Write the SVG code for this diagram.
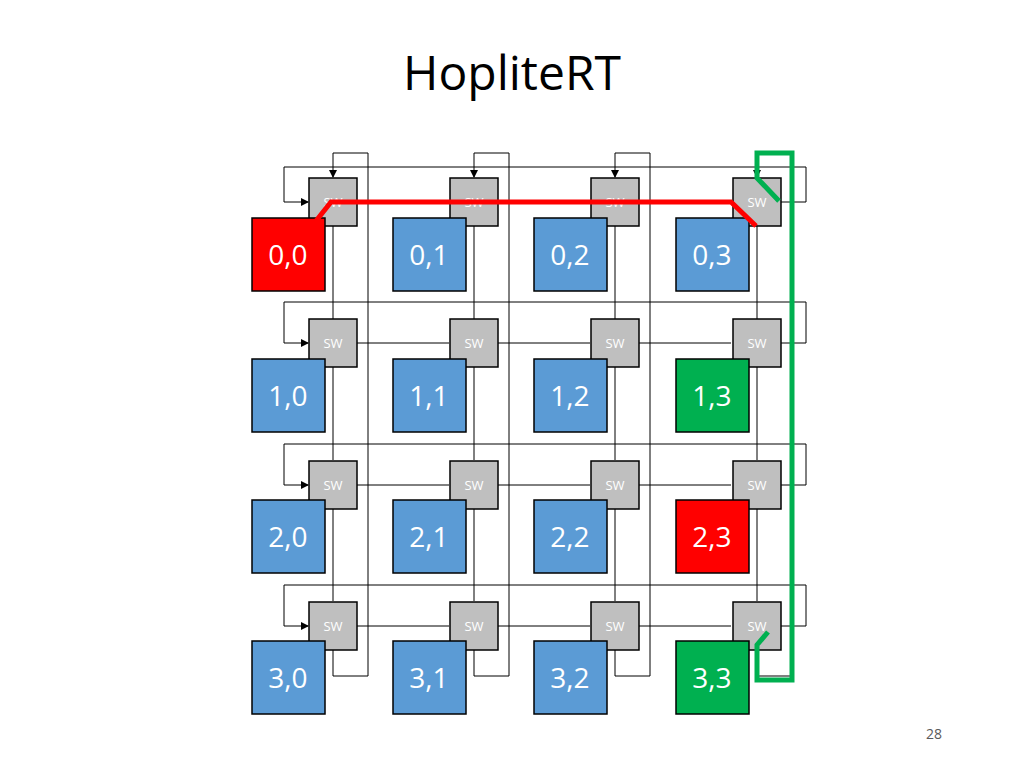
<svg xmlns="http://www.w3.org/2000/svg" width="1024" height="768" viewBox="0 0 1024 768">
<defs>
<marker id="a" markerWidth="8" markerHeight="8" refX="7" refY="4" orient="auto" markerUnits="userSpaceOnUse"><path d="M0,0L8,4L0,8z" fill="#000"/></marker>
<style>
.w{fill:none;stroke:#000;stroke-width:1}
.sw{fill:#bfbfbf;stroke:#000;stroke-width:1.5}
.pe{stroke:#000;stroke-width:1.5}
.b{fill:#5b9bd5}.r{fill:#ff0000}.g{fill:#00b050}
.st{font-family:"Open Sans","Liberation Sans",sans-serif;font-size:13px;fill:#fff;text-anchor:middle}
.pt{font-family:"Open Sans","Liberation Sans",sans-serif;font-size:28px;fill:#fff;text-anchor:middle}
</style>
</defs>
<rect width="1024" height="768" fill="#fff"/>
<text x="512" y="90" font-family="Open Sans,Liberation Sans,sans-serif" font-size="48" text-anchor="middle">HopliteRT</text>
<text x="934" y="739" font-family="Open Sans,Liberation Sans,sans-serif" font-size="14" fill="#595959" text-anchor="middle">28</text>
<g id="connectors">
<path class="w" d="M333,650V676H368V153H333V177" marker-end="url(#a)"/>
<path class="w" d="M474,650V676H509V153H474V177" marker-end="url(#a)"/>
<path class="w" d="M615,650V676H650V153H615V177" marker-end="url(#a)"/>
<path class="w" d="M757,650V676H792V153H757V177" marker-end="url(#a)"/>
<path class="w" d="M781,202H806V167H284V202H308" marker-end="url(#a)"/>
<path class="w" d="M781,343H806V302H284V343H308" marker-end="url(#a)"/>
<path class="w" d="M781,485H806V444H284V485H308" marker-end="url(#a)"/>
<path class="w" d="M781,626H806V585H284V626H308" marker-end="url(#a)"/>
<g id="v">
<path class="w" d="M333,226V319M474,226V319M615,226V319M757,226V319M333,367V460M474,367V460M615,367V460M757,367V460M333,508V601M474,508V601M615,508V601M757,508V601"/>
</g>
<path class="w" d="M357,202H449M498,202H590M639,202H731M357,343H449M498,343H590M639,343H731M357,485H449M498,485H590M639,485H731M357,626H449M498,626H590M639,626H731"/>
</g>
<defs><g id="sw"><rect class="sw" x="-24" y="-24" width="48" height="48"/><text class="st" x="0" y="5">SW</text></g></defs>
<g id="row0"><use href="#sw" x="333" y="202"/><use href="#sw" x="474" y="202"/><use href="#sw" x="615" y="202"/><use href="#sw" x="757" y="202"/></g>
<g id="row1"><use href="#sw" x="333" y="343"/><use href="#sw" x="474" y="343"/><use href="#sw" x="615" y="343"/><use href="#sw" x="757" y="343"/></g>
<g id="row2"><use href="#sw" x="333" y="485"/><use href="#sw" x="474" y="485"/><use href="#sw" x="615" y="485"/><use href="#sw" x="757" y="485"/></g>
<g id="row3"><use href="#sw" x="333" y="626"/><use href="#sw" x="474" y="626"/><use href="#sw" x="615" y="626"/><use href="#sw" x="757" y="626"/></g>
<g id="pe00"><rect class="pe r" x="252" y="218" width="73" height="73"/><text class="pt" x="288" y="265">0,0</text></g>
<g id="pe01"><rect class="pe b" x="393" y="218" width="73" height="73"/><text class="pt" x="429" y="265">0,1</text></g>
<g id="pe02"><rect class="pe b" x="534" y="218" width="73" height="73"/><text class="pt" x="570" y="265">0,2</text></g>
<g id="pe03"><rect class="pe b" x="676" y="218" width="73" height="73"/><text class="pt" x="712" y="265">0,3</text></g>
<g id="pe10"><rect class="pe b" x="252" y="359" width="73" height="73"/><text class="pt" x="288" y="406">1,0</text></g>
<g id="pe11"><rect class="pe b" x="393" y="359" width="73" height="73"/><text class="pt" x="429" y="406">1,1</text></g>
<g id="pe12"><rect class="pe b" x="534" y="359" width="73" height="73"/><text class="pt" x="570" y="406">1,2</text></g>
<g id="pe13"><rect class="pe g" x="676" y="359" width="73" height="73"/><text class="pt" x="712" y="406">1,3</text></g>
<g id="pe20"><rect class="pe b" x="252" y="500" width="73" height="73"/><text class="pt" x="288" y="547">2,0</text></g>
<g id="pe21"><rect class="pe b" x="393" y="500" width="73" height="73"/><text class="pt" x="429" y="547">2,1</text></g>
<g id="pe22"><rect class="pe b" x="534" y="500" width="73" height="73"/><text class="pt" x="570" y="547">2,2</text></g>
<g id="pe23"><rect class="pe r" x="676" y="500" width="73" height="73"/><text class="pt" x="712" y="547">2,3</text></g>
<g id="pe30"><rect class="pe b" x="252" y="641" width="73" height="73"/><text class="pt" x="288" y="688">3,0</text></g>
<g id="pe31"><rect class="pe b" x="393" y="641" width="73" height="73"/><text class="pt" x="429" y="688">3,1</text></g>
<g id="pe32"><rect class="pe b" x="534" y="641" width="73" height="73"/><text class="pt" x="570" y="688">3,2</text></g>
<g id="pe33"><rect class="pe g" x="676" y="641" width="73" height="73"/><text class="pt" x="712" y="688">3,3</text></g>
<g id="paths">
<path d="M312,226L331,202H731L756,226" fill="none" stroke="#ff0000" stroke-width="5"/>
<path d="M779,201L757,178V153H792V680H757V645L768,632" fill="none" stroke="#00b050" stroke-width="5"/>
</g>
</svg>
